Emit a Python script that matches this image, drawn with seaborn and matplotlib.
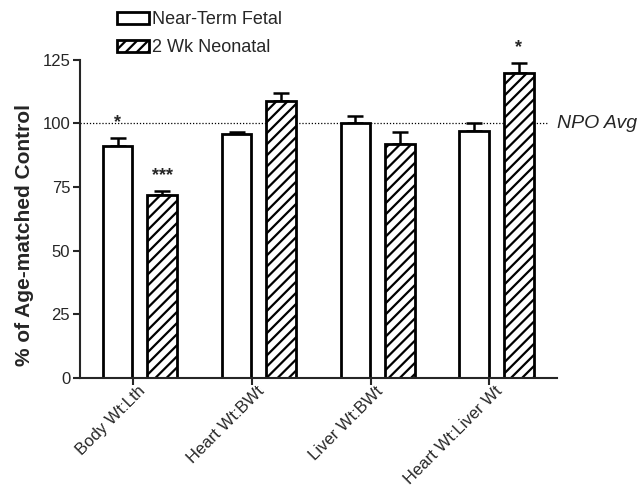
import numpy as np
import pandas as pd
import matplotlib
matplotlib.use("Agg")
import matplotlib.pyplot as plt
import matplotlib.transforms as mtransforms
import seaborn as sns
from matplotlib.patches import Patch

measures = ["Body Wt:Lth", "Heart Wt:BWt", "Liver Wt:BWt", "Heart Wt:Liver Wt"]
groups = ["Near-Term Fetal", "2 Wk Neonatal"]
fetal_mean = [91, 96, 100, 97]
fetal_sem = [3.2, 0.5, 2.8, 3.0]
neo_mean = [72, 109, 92, 120]
neo_sem = [1.6, 3.1, 4.6, 3.9]
fetal_stars = ["*", "", "", ""]
neo_stars = ["***", "", "", "*"]

sns.set_style("ticks")
plt.rcParams["font.family"] = ["Liberation Sans", "DejaVu Sans"]
plt.rcParams["hatch.linewidth"] = 1.6

df = pd.DataFrame({
    "measure": measures * 2,
    "group": [groups[0]] * 4 + [groups[1]] * 4,
    "value": fetal_mean + neo_mean,
})

fig, ax = plt.subplots(figsize=(6.39, 4.86), dpi=100)
fig.subplots_adjust(left=0.125, right=0.872, bottom=0.222, top=0.877)

sns.barplot(data=df, x="measure", y="value", hue="group", order=measures,
            hue_order=groups, width=0.75, gap=0.333, errorbar=None,
            palette=["white", "white"], edgecolor="black", linewidth=2,
            legend=False, ax=ax, zorder=2)

# hatch the neonatal bars (second hue level)
bars = ax.patches
for b in bars[4:8]:
    b.set_hatch("///")

sems = fetal_sem + neo_sem
stars = fetal_stars + neo_stars
for b, e, s in zip(bars[:8], sems, stars):
    xc = b.get_x() + b.get_width() / 2
    top = b.get_height()
    ax.errorbar(xc, top, yerr=[[0], [e]], fmt="none", ecolor="black",
                elinewidth=1.8, capsize=6, capthick=1.8, zorder=1.5)
    if s:
        ax.text(xc, top + e + 6, s, ha="center", va="center",
                fontsize=13, fontweight="bold")

# dotted reference line sits behind the bars
ax.axhline(100, color="black", linestyle=(0, (1, 1.5)), linewidth=0.9,
           xmax=0.979, zorder=1)
ax.text(1.0, 100, "NPO Avg", transform=ax.get_yaxis_transform(),
        ha="left", va="center", fontsize=14, fontstyle="italic")

ax.set_xlim(-0.505, 3.51)
ax.set_ylim(0, 125)
ax.set_yticks([0, 25, 50, 75, 100, 125])
tick_pos = np.arange(4) - 0.06
ax.set_xticks(tick_pos)
ax.set_xticklabels([])
# rotated category labels, nudged like the original
lab_tr = ax.get_xaxis_transform() + mtransforms.ScaledTranslation(
    5 / 100, -5.5 / 100, fig.dpi_scale_trans)
for xp, name in zip(tick_pos, measures):
    ax.text(xp, 0, name, transform=lab_tr, rotation=45, ha="right", va="top",
            rotation_mode="anchor", fontsize=12)
ax.tick_params(axis="y", labelsize=12, width=1.5, length=5, pad=2)
ax.tick_params(axis="x", width=1.5, length=5)
ax.set_xlabel("")
ax.set_ylabel("% of Age-matched Control", fontsize=15, fontweight="bold")
ax.yaxis.set_label_coords(-0.097, 0.45)
sns.despine(ax=ax)
for sp in ["left", "bottom"]:
    ax.spines[sp].set_linewidth(1.5)

handles = [Patch(facecolor="white", edgecolor="black", linewidth=2),
           Patch(facecolor="white", edgecolor="black", linewidth=2, hatch="///")]
fig.legend(handles, groups, loc="upper left", bbox_to_anchor=(0.158, 1.01),
           frameon=False, fontsize=13, handlelength=1.75, handleheight=0.6,
           labelspacing=0.6, handletextpad=0.15)

fig.savefig("out.png", dpi=100)
